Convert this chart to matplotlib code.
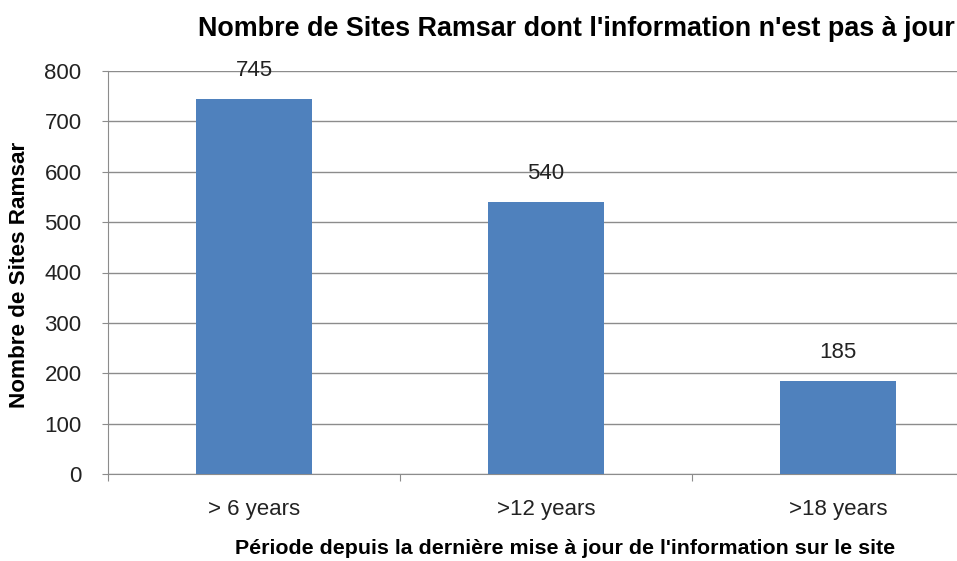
import matplotlib
matplotlib.use('Agg')
from matplotlib import pyplot as plt
import numpy as np

# données
categories = ['> 6 years', '>12 years', '>18 years']
sites = [745, 540, 185]
y_ticks = [0, 100, 200, 300, 400, 500, 600, 700, 800]

plt.rcParams['font.family'] = ['Liberation Sans', 'DejaVu Sans']

W, H = 957, 561
fig = plt.figure(figsize=(W / 100, H / 100), dpi=100)
# le graphique d'origine est coupé à droite
ax = fig.add_axes([108 / W, (H - 474) / H, 876 / W, 403 / H])

x = np.arange(len(categories))
ax.bar(x, sites, width=0.4, color='#4F81BD', zorder=3)

for i, v in enumerate(sites):
    ax.annotate(str(v), (x[i], v), xytext=(0, 13), textcoords='offset points',
                ha='center', va='bottom', fontsize=16, color='#222222')

ax.set_xlim(-0.5, len(categories) - 0.5)
ax.set_ylim(0, 800)
ax.set_yticks(y_ticks)
ax.set_yticklabels([str(t) for t in y_ticks], fontsize=16, color='#222222')
ax.grid(axis='y', color='#8C8C8C', linewidth=1, zorder=0)

# étiquettes entre les graduations
ax.set_xticks(np.arange(-0.5, len(categories), 1.0))
ax.set_xticklabels([])
ax.set_xticks(x, minor=True)
ax.set_xticklabels(categories, minor=True, fontsize=16, color='#222222')
ax.tick_params(axis='x', which='minor', length=0, pad=18)
ax.tick_params(axis='x', which='major', length=5, color='#8C8C8C')
ax.tick_params(axis='y', length=4, color='#8C8C8C', pad=15)

for s in ['top', 'right']:
    ax.spines[s].set_visible(False)
for s in ['left', 'bottom']:
    ax.spines[s].set_color('#8C8C8C')

fig.text(576 / W, 1 - 29 / H, "Nombre de Sites Ramsar dont l'information n'est pas à jour",
         ha='center', va='center', fontsize=19.4, fontweight='bold')
fig.text(565 / W, 1 - 548 / H, "Période depuis la dernière mise à jour de l'information sur le site",
         ha='center', va='center', fontsize=15.4, fontweight='bold')
fig.text(20 / W, 1 - 275 / H, "Nombre de Sites Ramsar", rotation=90,
         ha='center', va='center', fontsize=16.2, fontweight='bold')

fig.savefig('out.png', dpi=100)
